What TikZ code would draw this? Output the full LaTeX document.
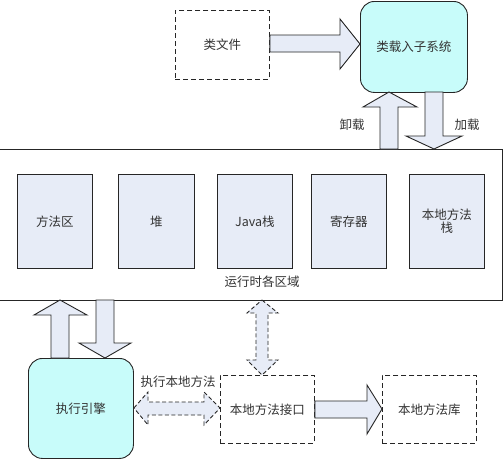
\documentclass[tikz,border=0pt]{standalone}
\usepackage{fontspec}
\setmainfont{Noto Sans CJK SC}
\begin{document}
\begin{tikzpicture}[x=1pt,y=-1pt,
  font=\fontsize{12.5}{14}\selectfont,
  every node/.style={text=black!80},
  ln/.style={draw=black!85, line width=0.9pt},
  dbox/.style={ln, dash pattern=on 5pt off 3pt, fill=white, inner sep=0pt, anchor=north west},
  cbox/.style={ln, fill=cyanbox, rounded corners=14pt, inner sep=0pt, anchor=north west},
  gbox/.style={ln, fill=lightfill, inner sep=0pt, anchor=north west, align=center},
  barrow/.style={ln, fill=lightfill, line join=miter},
  darrow/.style={ln, fill=lightfill, dash pattern=on 4pt off 2.5pt},
  lbl/.style={inner sep=1pt}
]
\definecolor{cyanbox}{RGB}{200,252,250}
\definecolor{lightfill}{RGB}{231,236,247}
\useasboundingbox (0,0) rectangle (504,461);
\fill[white] (0,0) rectangle (504,461);

% top
\node[dbox, minimum width=94pt, minimum height=69pt] (cf) at (175,10) {类文件};
\node[cbox, minimum width=107pt, minimum height=91pt] (cl) at (360,1) {类载入子系统};

\draw[barrow] (cf.east |- 0,35) -- (340,35) -- (340,19) -- (cl.west |- 0,44) -- (340,69) -- (340,52) -- (cf.east |- 0,52) -- cycle;

% runtime area
\node[ln, fill=white, minimum width=504pt, minimum height=151pt, inner sep=0pt, anchor=north west] (rt) at (-2,149) {};
\node[lbl] (rtl) at (262,282) {运行时各区域};

\draw[barrow] (380,149) -- (380,107) -- (363,107) -- (389,92) -- (417,107) -- (398,107) -- (398,149) -- cycle;
\draw[barrow] (425,92) -- (443,92) -- (443,136) -- (462,136) -- (434,149) -- (406,136) -- (425,136) -- cycle;
\node[lbl] (xz) at (352,125) {卸载};
\node[lbl] (jz) at (467,125) {加载};

\node[gbox, minimum width=75pt, minimum height=94pt] (m1) at (17,174) {方法区};
\node[gbox, minimum width=76pt, minimum height=94pt] (m2) at (118,174) {堆};
\node[gbox, minimum width=75pt, minimum height=94pt] (m3) at (217,174) {Java栈};
\node[gbox, minimum width=75pt, minimum height=94pt] (m4) at (311,174) {寄存器};
\node[gbox, minimum width=75pt, minimum height=94pt] (m5) at (409,174) {本地方法\\[-1pt]栈};

% bottom
\node[cbox, minimum width=105pt, minimum height=100pt] (ee) at (28,358) {执行引擎};
\node[dbox, minimum width=94pt, minimum height=68pt] (ni) at (220,375) {本地方法接口};
\node[dbox, minimum width=94pt, minimum height=68pt] (nl) at (382,375) {本地方法库};

\draw[barrow] (51,358) -- (51,315) -- (34,315) -- (60,300) -- (87,315) -- (69,315) -- (69,358) -- cycle;
\draw[barrow] (96,300) -- (114,300) -- (114,343) -- (131,343) -- (105,358) -- (79,343) -- (96,343) -- cycle;

\draw[darrow] (262,300) -- (278,313) -- (268,313) -- (268,360) -- (278,360) -- (262,375) -- (247,360) -- (256,360) -- (256,313) -- (247,313) -- cycle;

\draw[darrow] (ee.east |- 0,408) -- (148,392) -- (148,402) -- (204,402) -- (204,392) -- (ni.west |- 0,408) -- (204,425) -- (204,415) -- (148,415) -- (148,425) -- cycle;
\node[lbl] (zx) at (178,382) {执行本地方法};

\draw[barrow] (ni.east |- 0,401) -- (367,401) -- (367,385) -- (nl.west |- 0,409) -- (367,434) -- (367,418) -- (ni.east |- 0,418) -- cycle;
\end{tikzpicture}
\end{document}
